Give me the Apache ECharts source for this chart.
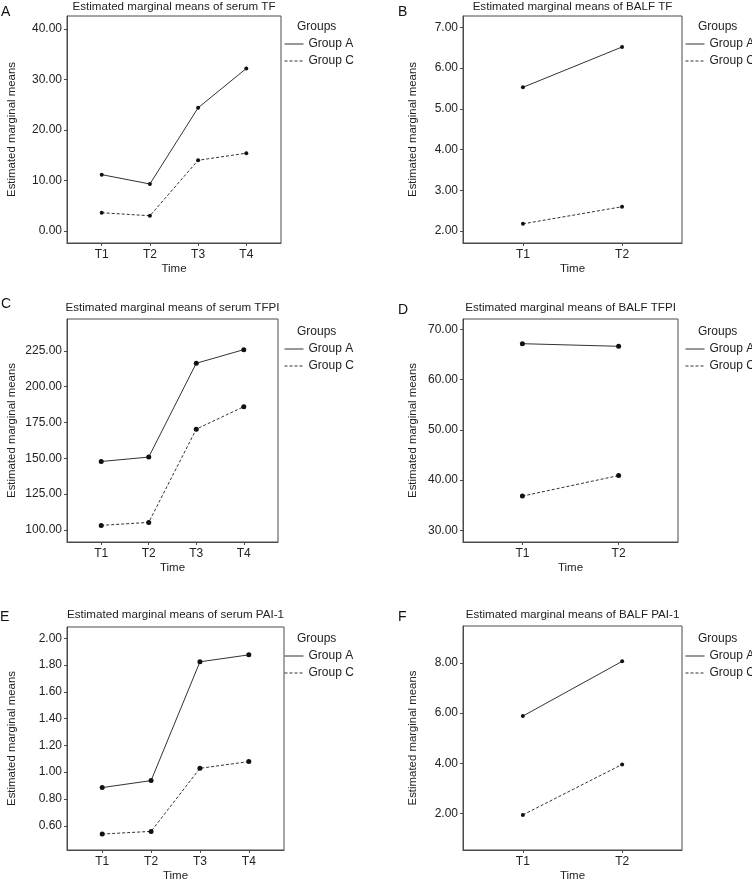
<!DOCTYPE html>
<html>
<head>
<meta charset="utf-8">
<script src="https://cdn.jsdelivr.net/npm/echarts@6/dist/echarts.min.js"></script>
<style>
  html, body { margin: 0; padding: 0; background: #fff; }
  #chart { width: 752px; height: 883px; }
</style>
</head>
<body>
<div id="chart"></div>
<script>
// categories
var times4 = ['T1', 'T2', 'T3', 'T4'];
var times2 = ['T1', 'T2'];
var groupNames = ['Group A', 'Group C'];

// estimated marginal means
var serumTfA = [11.15, 9.3, 24.4, 32.2];
var serumTfC = [3.6, 3.0, 14.0, 15.4];
var balfTfA = [5.53, 6.52];
var balfTfC = [2.18, 2.60];
var serumTfpiA = [147.8, 150.9, 216.4, 225.9];
var serumTfpiC = [103.2, 105.3, 170.4, 186.1];
var balfTfpiA = [67.14, 66.62];
var balfTfpiC = [36.83, 40.92];
var serumPaiA = [0.885, 0.937, 1.824, 1.876];
var serumPaiC = [0.538, 0.558, 1.029, 1.079];
var balfPaiA = [5.88, 8.06];
var balfPaiC = [1.94, 3.95];

// y tick labels
var ticksA = [0, 10, 20, 30, 40];
var ticksB = [2, 3, 4, 5, 6, 7];
var ticksC = [100, 125, 150, 175, 200, 225];
var ticksD = [30, 40, 50, 60, 70];
var ticksE = [0.6, 0.8, 1.0, 1.2, 1.4, 1.6, 1.8, 2.0];
var ticksF = [2, 4, 6, 8];

const FONT = "'Liberation Sans', Arial, sans-serif";
const INK = '#222';
const LINE = '#333';
const AXIS = '#4a4a4a';

var panels = [
    { letter: 'A', cats: times4, a: serumTfA, c: serumTfC, ticks: ticksA,
      title: 'Estimated marginal means of serum TF',
      grid: { left: 67, top: 16, width: 214, height: 227 }, yr: [-2.4, 42.6], pad: 0.72,
      dot: 4, nameGap: 50, letterPos: [1, 5], titleY: 1, legX: 284, legY: 21 },
    { letter: 'B', cats: times2, a: balfTfA, c: balfTfC, ticks: ticksB,
      title: 'Estimated marginal means of BALF TF',
      grid: { left: 463, top: 16, width: 219, height: 227 }, yr: [1.71, 7.28], pad: 0.605,
      dot: 4, nameGap: 45, letterPos: [398, 5], titleY: 1, legX: 685, legY: 21 },
    { letter: 'C', cats: times4, a: serumTfpiA, c: serumTfpiC, ticks: ticksC,
      title: 'Estimated marginal means of serum TFPI',
      grid: { left: 67, top: 319, width: 211, height: 223 }, yr: [91.6, 247.3], pad: 0.72,
      dot: 5, nameGap: 50, letterPos: [1, 297], titleY: 302, legX: 284, legY: 326 },
    { letter: 'D', cats: times2, a: balfTfpiA, c: balfTfpiC, ticks: ticksD,
      title: 'Estimated marginal means of BALF TFPI',
      grid: { left: 463, top: 319, width: 215, height: 223 }, yr: [27.7, 72.05], pad: 0.617,
      dot: 5, nameGap: 45, letterPos: [398, 303], titleY: 302, legX: 685, legY: 326 },
    { letter: 'E', cats: times4, a: serumPaiA, c: serumPaiC, ticks: ticksE,
      title: 'Estimated marginal means of serum PAI-1',
      grid: { left: 67, top: 627, width: 217, height: 224 }, yr: [0.419, 2.084], pad: 0.72,
      dot: 5, nameGap: 50, letterPos: [0, 610], titleY: 609, legX: 284, legY: 633 },
    { letter: 'F', cats: times2, a: balfPaiA, c: balfPaiC, ticks: ticksF,
      title: 'Estimated marginal means of BALF PAI-1',
      grid: { left: 463, top: 626, width: 219, height: 225 }, yr: [0.54, 9.47], pad: 0.603,
      dot: 4, nameGap: 45, letterPos: [398, 610], titleY: 609, legX: 685, legY: 633 }
];

var grids = [], xAxes = [], yAxes = [], series = [], titles = [], legends = [];

panels.forEach(function (p, i) {
    var g = p.grid;
    grids.push({
        left: g.left, top: g.top, width: g.width, height: g.height,
        show: true, borderColor: AXIS, borderWidth: 1, backgroundColor: '#fff'
    });

    var catIdx = p.cats.map(function (c, k) { return k + 1; });
    xAxes.push({
        type: 'value', gridIndex: i,
        min: 1 - p.pad, max: p.cats.length + p.pad,
        name: 'Time', nameLocation: 'middle', nameGap: 20,
        nameTextStyle: { fontFamily: FONT, fontSize: 11.5, color: INK },
        axisLine: { show: true, onZero: false, lineStyle: { color: AXIS, width: 1 } },
        axisTick: { show: true, length: 3, customValues: catIdx, lineStyle: { color: AXIS } },
        axisLabel: {
            customValues: catIdx, margin: 6, fontFamily: FONT, fontSize: 12, color: INK,
            formatter: function (v) { return p.cats[Math.round(v) - 1]; }
        },
        splitLine: { show: false }
    });

    yAxes.push({
        type: 'value', gridIndex: i,
        min: p.yr[0], max: p.yr[1],
        name: 'Estimated marginal means', nameLocation: 'middle', nameGap: p.nameGap,
        nameTextStyle: { fontFamily: FONT, fontSize: 11.4, color: INK },
        axisLine: { show: true, onZero: false, lineStyle: { color: AXIS, width: 1 } },
        axisTick: { show: true, length: 3, customValues: p.ticks, lineStyle: { color: AXIS } },
        axisLabel: {
            customValues: p.ticks, margin: 5, fontFamily: FONT, fontSize: 12, color: INK,
            formatter: function (v) { return v.toFixed(2); }
        },
        splitLine: { show: false }
    });

    [p.a, p.c].forEach(function (vals, s) {
        series.push({
            type: 'line', name: groupNames[s],
            xAxisIndex: i, yAxisIndex: i,
            data: vals.map(function (v, k) { return [k + 1, v]; }),
            symbol: 'circle', symbolSize: p.dot,
            itemStyle: { color: '#111' },
            lineStyle: { color: LINE, width: 1, type: s === 0 ? 'solid' : [3, 2] },
            animation: false
        });
    });

    titles.push({
        text: p.title, left: g.left + g.width / 2, top: p.titleY, textAlign: 'center', padding: 0,
        textStyle: { fontFamily: FONT, fontSize: 11.6, fontWeight: 'normal', color: INK }
    });
    titles.push({
        text: p.letter, left: p.letterPos[0], top: p.letterPos[1], padding: 0,
        textStyle: { fontFamily: FONT, fontSize: 14, fontWeight: 'normal', color: '#111' }
    });
    titles.push({
        text: 'Groups', left: p.legX + 13, top: p.legY, padding: 0,
        textStyle: { fontFamily: FONT, fontSize: 12, fontWeight: 'normal', color: INK }
    });

    legends.push({
        data: groupNames, orient: 'vertical',
        left: p.legX, top: p.legY + 17, padding: 0,
        itemWidth: 19, itemHeight: 8, itemGap: 5,
        itemStyle: { opacity: 0 },
        lineStyle: { width: 1 },
        selectedMode: false,
        textStyle: { fontFamily: FONT, fontSize: 12, color: INK, lineHeight: 12 }
    });
});

var chart = echarts.init(document.getElementById('chart'), null, { renderer: 'canvas' });
chart.setOption({
    backgroundColor: '#fff',
    animation: false,
    title: titles,
    legend: legends,
    grid: grids,
    xAxis: xAxes,
    yAxis: yAxes,
    series: series
});
</script>
</body>
</html>
